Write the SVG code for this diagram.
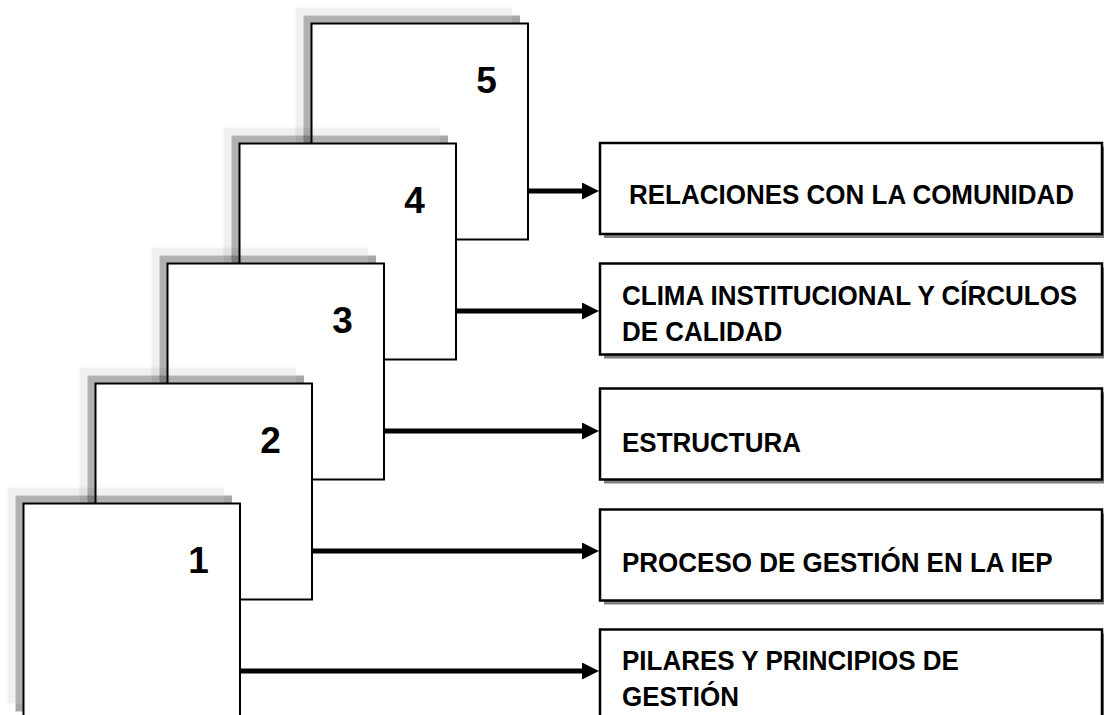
<svg xmlns="http://www.w3.org/2000/svg" width="1104" height="715" viewBox="0 0 1104 715">
<style>
  .bg { fill: #ffffff; }
  .sh-light { fill: #000000; fill-opacity: 0.06; fill-rule: evenodd; }
  .sh-dark { fill: #000000; fill-opacity: 0.3; }
  .step { fill: #ffffff; stroke: #000000; stroke-width: 2; }
  .num { font-family: "Liberation Sans", Arial, sans-serif; font-weight: bold; font-size: 37px; fill: #000000; text-anchor: middle; }
  .rsh { fill: #808080; }
  .rbox { fill: #ffffff; stroke: #000000; stroke-width: 2.5; }
  .lbl { font-family: "Liberation Sans", Arial, sans-serif; font-weight: bold; font-size: 26px; fill: #000000; }
  .conn { stroke: #000000; stroke-width: 5; fill: none; marker-end: url(#arrow); }
</style>
<defs>
  <marker id="arrow" markerUnits="userSpaceOnUse" markerWidth="18" markerHeight="18" refX="8" refY="8.5" orient="auto">
    <path d="M0,0 L17,8.5 L0,17 Z" fill="#000000"/>
  </marker>
</defs>
<rect class="bg" x="0" y="0" width="1104" height="715"/>

<g id="step5">
  <path class="sh-light" d="M295.5,7.5 h216.5 v216 h-216.5 Z M303.5,15.5 h216.5 v216 h-216.5 Z"/>
  <rect class="sh-dark" x="303.5" y="15.5" width="216.5" height="216"/>
  <rect class="step" x="311.5" y="23.5" width="216.5" height="216"/>
  <text class="num" x="486.5" y="93">5</text>
</g>
<g id="step4">
  <path class="sh-light" d="M223.5,127.5 h216.5 v216 h-216.5 Z M231.5,135.5 h216.5 v216 h-216.5 Z"/>
  <rect class="sh-dark" x="231.5" y="135.5" width="216.5" height="216"/>
  <rect class="step" x="239.5" y="143.5" width="216.5" height="216"/>
  <text class="num" x="414.5" y="213">4</text>
</g>
<g id="step3">
  <path class="sh-light" d="M151.5,247.5 h216.5 v216 h-216.5 Z M159.5,255.5 h216.5 v216 h-216.5 Z"/>
  <rect class="sh-dark" x="159.5" y="255.5" width="216.5" height="216"/>
  <rect class="step" x="167.5" y="263.5" width="216.5" height="216"/>
  <text class="num" x="342.5" y="333">3</text>
</g>
<g id="step2">
  <path class="sh-light" d="M79.5,367.5 h216.5 v216 h-216.5 Z M87.5,375.5 h216.5 v216 h-216.5 Z"/>
  <rect class="sh-dark" x="87.5" y="375.5" width="216.5" height="216"/>
  <rect class="step" x="95.5" y="383.5" width="216.5" height="216"/>
  <text class="num" x="270.5" y="453">2</text>
</g>
<g id="step1">
  <path class="sh-light" d="M7.5,487.5 h216.5 v216 h-216.5 Z M15.5,495.5 h216.5 v216 h-216.5 Z"/>
  <rect class="sh-dark" x="15.5" y="495.5" width="216.5" height="216"/>
  <rect class="step" x="23.5" y="503.5" width="216.5" height="216"/>
  <text class="num" x="198.5" y="573">1</text>
</g>

<g id="relaciones">
  <rect class="rsh" x="604" y="147" width="502" height="91"/>
  <rect class="rbox" x="600" y="143" width="502" height="91"/>
  <text class="lbl" transform="translate(629,203.5) scale(1,1.077)">RELACIONES CON LA COMUNIDAD</text>
</g>
<g id="clima">
  <rect class="rsh" x="604" y="267.5" width="502" height="91"/>
  <rect class="rbox" x="600" y="263.5" width="502" height="91"/>
  <text class="lbl" transform="translate(622,305) scale(1,1.077)">CLIMA INSTITUCIONAL Y CÍRCULOS</text>
  <text class="lbl" transform="translate(622,341) scale(1,1.077)">DE CALIDAD</text>
</g>
<g id="estructura">
  <rect class="rsh" x="604" y="392.5" width="502" height="91"/>
  <rect class="rbox" x="600" y="388.5" width="502" height="91"/>
  <text class="lbl" transform="translate(622,451.5) scale(1,1.077)">ESTRUCTURA</text>
</g>
<g id="proceso">
  <rect class="rsh" x="604" y="513.5" width="502" height="91"/>
  <rect class="rbox" x="600" y="509.5" width="502" height="91"/>
  <text class="lbl" transform="translate(622,571.5) scale(1,1.077)">PROCESO DE GESTIÓN EN LA IEP</text>
</g>
<g id="pilares">
  <rect class="rsh" x="604" y="633.5" width="502" height="100"/>
  <rect class="rbox" x="600" y="629.5" width="502" height="100"/>
  <text class="lbl" transform="translate(622,669.5) scale(1,1.077)">PILARES Y PRINCIPIOS DE</text>
  <text class="lbl" transform="translate(622,705.5) scale(1,1.077)">GESTIÓN</text>
</g>

<g id="connectors">
  <line class="conn" x1="528" y1="191" x2="590" y2="191"/>
  <line class="conn" x1="456" y1="311" x2="590" y2="311"/>
  <line class="conn" x1="384" y1="431" x2="590" y2="431"/>
  <line class="conn" x1="312" y1="551" x2="590" y2="551"/>
  <line class="conn" x1="240" y1="671" x2="590" y2="671"/>
</g>
</svg>
